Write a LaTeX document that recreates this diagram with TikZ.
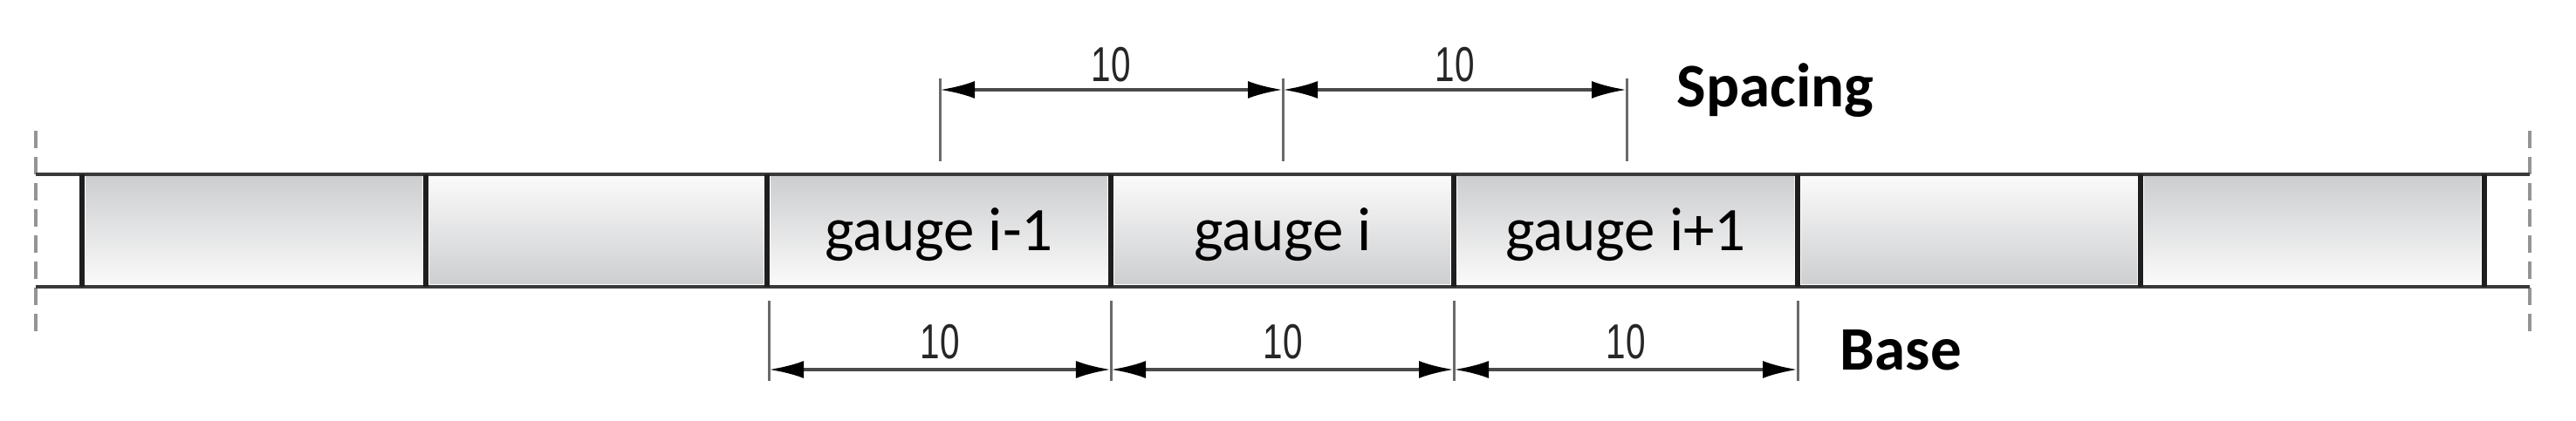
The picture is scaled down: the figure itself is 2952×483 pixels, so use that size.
\documentclass[tikz,border=0pt]{standalone}
\usepackage{fontspec}
\setmainfont{Carlito}
\newfontfamily\dimfont[FakeStretch=0.72]{Liberation Sans}
\usetikzlibrary{arrows.meta}
\definecolor{boxdark}{HTML}{CDCED0}
\definecolor{boxlight}{HTML}{FAFAFA}
\definecolor{stripline}{HTML}{3A3A3A}
\definecolor{divline}{HTML}{1E1E1E}
\definecolor{extline}{HTML}{6A6A6A}
\definecolor{dimcol}{HTML}{4A4A4A}
\definecolor{dashcol}{HTML}{949494}
\tikzset{
  stripedge/.style={draw=stripline, line width=1.4pt},
  divider/.style={draw=divline, line width=1.7pt},
  extl/.style={draw=extline, line width=0.85pt},
  dimline/.style={draw=dimcol, line width=1.2pt,
    {Latex[length=0.4cm,width=0.2cm,black]}-{Latex[length=0.4cm,width=0.2cm,black]}},
  endmark/.style={draw=dashcol, line width=1.1pt, dash pattern=on 0.2cm off 0.1cm},
  gaugetxt/.style={font=\fontsize{20.2}{24}\selectfont, anchor=base, inner sep=0pt},
  labeltxt/.style={font=\fontsize{20.2}{24}\selectfont\bfseries, anchor=base west, inner sep=0pt},
  dimtxt/.style={font=\dimfont\fontsize{16}{19}\selectfont, text=black!85, inner sep=0pt},
  darktop/.style={top color=boxdark, bottom color=boxlight},
  darkbottom/.style={top color=boxlight, bottom color=boxdark}
}
\begin{document}
\begin{tikzpicture}[x=0.01cm,y=-0.01cm]
\useasboundingbox (0,0) rectangle (2952,483);
% box fills
\foreach \a/\b/\s in {94/488/darktop, 488/879/darkbottom, 879/1273/darktop, 1273/1666/darkbottom, 1666/2060/darktop, 2060/2453/darkbottom, 2453/2847/darktop}{
  \path[\s] (\a+4,203) rectangle (\b-4,326);
}
% end marks (dashed)
\coordinate (lt) at (41,150); \coordinate (lb) at (41,380);
\coordinate (rt) at (2899,150); \coordinate (rb) at (2899,380);
\draw[endmark] (lt) -- (lb);
\draw[endmark] (rt) -- (rb);
% strip edges
\draw[stripedge] (41,200) -- (2899,200);
\draw[stripedge] (41,329) -- (2899,329);
% dividers
\foreach \x in {94,488,879,1273,1666,2060,2453,2847}{
  \draw[divider] (\x,200) -- (\x,329);
}
% gauge labels
\node[gaugetxt] (gm) at (1076,288) {gauge i-1};
\node[gaugetxt] (gi) at (1470,288) {gauge i};
\node[gaugetxt] (gp) at (1863,288) {gauge i+1};
% spacing dimension
\coordinate (s1t) at (1077,90);  \coordinate (s1b) at (1077,185);
\coordinate (s2t) at (1470,90);  \coordinate (s2b) at (1470,185);
\coordinate (s3t) at (1864,90);  \coordinate (s3b) at (1864,185);
\draw[extl] (s1t) -- (s1b);
\draw[extl] (s2t) -- (s2b);
\draw[extl] (s3t) -- (s3b);
\coordinate (s1) at (1077,103); \coordinate (s2) at (1470,103); \coordinate (s3) at (1864,103);
\draw[dimline] (s1) -- (s2);
\draw[dimline] (s2) -- (s3);
\node[dimtxt] (st1) at (1273,74) {10};
\node[dimtxt] (st2) at (1667,74) {10};
\node[labeltxt] (spacing) at (1921,123) {Spacing};
% base dimension
\coordinate (b1t) at (881,345);  \coordinate (b1b) at (881,437);
\coordinate (b2t) at (1273,345); \coordinate (b2b) at (1273,437);
\coordinate (b3t) at (1666,345); \coordinate (b3b) at (1666,437);
\coordinate (b4t) at (2060,345); \coordinate (b4b) at (2060,437);
\draw[extl] (b1t) -- (b1b);
\draw[extl] (b2t) -- (b2b);
\draw[extl] (b3t) -- (b3b);
\draw[extl] (b4t) -- (b4b);
\coordinate (b1) at (881,424); \coordinate (b2) at (1273,424);
\coordinate (b3) at (1666,424); \coordinate (b4) at (2060,424);
\draw[dimline] (b1) -- (b2);
\draw[dimline] (b2) -- (b3);
\draw[dimline] (b3) -- (b4);
\node[dimtxt] (bt1) at (1077,392) {10};
\node[dimtxt] (bt2) at (1470,392) {10};
\node[dimtxt] (bt3) at (1863,392) {10};
\node[labeltxt] (base) at (2108,425) {Base};
\end{tikzpicture}
\end{document}
